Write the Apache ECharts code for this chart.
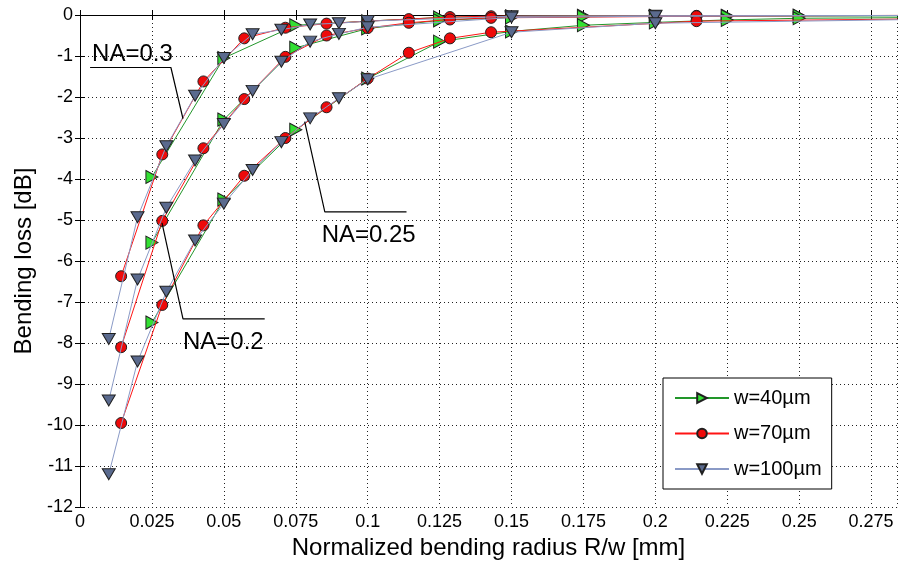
<!DOCTYPE html>
<html>
<head>
<meta charset="utf-8">
<style>
html,body{margin:0;padding:0;background:#fff}
#main{width:899px;height:565px}
</style>
<script src="https://cdn.jsdelivr.net/npm/echarts@6/dist/echarts.min.js"></script>
</head>
<body>
<div id="main"></div>
<script>
// normalized radius R/w for each fibre width (last point lies past the axis end)
var x40  = [0.025, 0.05, 0.075, 0.1, 0.125, 0.15, 0.175, 0.2, 0.225, 0.25, 0.375];
var x70  = [0.0143, 0.0286, 0.0429, 0.0571, 0.0714, 0.0857, 0.1, 0.1143, 0.1286, 0.1429, 0.2143, 0.2857];
var x100 = [0.01, 0.02, 0.03, 0.04, 0.05, 0.06, 0.07, 0.08, 0.09, 0.1, 0.15, 0.2, 0.3];

// curve labelled NA=0.3
var a40  = [-3.95, -1.05, -0.25, -0.15, -0.06, -0.03, -0.02, -0.02, -0.02, -0.02, -0.01];
var a70  = [-6.37, -3.4, -1.62, -0.57, -0.31, -0.21, -0.15, -0.1, -0.05, -0.03, -0.02, -0.01];
var a100 = [-7.9, -4.93, -3.2, -1.97, -1.05, -0.47, -0.36, -0.23, -0.2, -0.15, -0.03, -0.02, -0.01];
// curve labelled NA=0.2
var b40  = [-5.55, -2.55, -0.8, -0.33, -0.13, -0.06, -0.04, -0.03, -0.03, -0.02, -0.01];
var b70  = [-8.1, -5.02, -3.25, -2.05, -1.02, -0.5, -0.32, -0.19, -0.11, -0.07, -0.03, -0.01];
var b100 = [-9.4, -6.45, -4.7, -3.55, -2.66, -1.85, -1.14, -0.65, -0.46, -0.3, -0.06, -0.03, -0.01];
// curve labelled NA=0.25
var c40  = [-7.5, -4.5, -2.8, -1.55, -0.65, -0.4, -0.25, -0.18, -0.12, -0.08, -0.03];
var c70  = [-9.95, -7.07, -5.13, -3.92, -3.0, -2.25, -1.55, -0.92, -0.57, -0.42, -0.15, -0.1];
var c100 = [-11.2, -8.45, -6.75, -5.5, -4.6, -3.78, -3.1, -2.52, -2.03, -1.57, -0.42, -0.2, -0.1];

var legendNames = ['w=40\u00b5m', 'w=70\u00b5m', 'w=100\u00b5m'];

// annotation texts and leader lines, in data units
var noteText = ['NA=0.3', 'NA=0.2', 'NA=0.25'];
var noteX    = [0.0042, 0.0358, 0.084];
var noteY    = [-0.95, -7.98, -5.37];
var leaders = [
  [[0.0035, -1.28], [0.0316, -1.28], [0.0358, -2.53]],
  [[0.0285, -5.07], [0.0358, -7.41], [0.0642, -7.41]],
  [[0.0781, -2.6], [0.0851, -4.8], [0.1135, -4.8]]
];

var FONT = 'Arial, "Liberation Sans", sans-serif';
var triRight = 'path://M0,0 L10,5 L0,10 Z';
var triDown  = 'path://M0,0 L10,0 L5,9 Z';

function pts(xs, ys) {
  return ys.map(function (y, i) { return [xs[i], y]; });
}

function curve(name, xs, ys, sym, size, line, fill, z) {
  return {
    name: name, type: 'line', data: pts(xs, ys),
    symbol: sym, symbolSize: size, showAllSymbol: true,
    lineStyle: { color: line, width: 1 },
    itemStyle: { color: fill, borderColor: '#202020', borderWidth: 1 },
    clip: true, z: z, animation: false
  };
}

var G = ['#22962a', '#33e033'];
var R = ['#ff1414', '#ee0a0a'];
var B = ['#8a9ac6', '#5a6a8e'];

var series = [
  curve(legendNames[0], x40, a40, triRight, [12, 13], G[0], G[1], 2),
  curve(legendNames[0], x40, b40, triRight, [12, 13], G[0], G[1], 2),
  curve(legendNames[0], x40, c40, triRight, [12, 13], G[0], G[1], 2),
  curve(legendNames[1], x70, a70, 'circle', 11, R[0], R[1], 3),
  curve(legendNames[1], x70, b70, 'circle', 11, R[0], R[1], 3),
  curve(legendNames[1], x70, c70, 'circle', 11, R[0], R[1], 3),
  curve(legendNames[2], x100, a100, triDown, [13, 11], B[0], B[1], 4),
  curve(legendNames[2], x100, b100, triDown, [13, 11], B[0], B[1], 4),
  curve(legendNames[2], x100, c100, triDown, [13, 11], B[0], B[1], 4)
];

leaders.forEach(function (l, i) {
  series.push({
    name: 'leader' + i, type: 'line', data: l, symbol: 'none',
    lineStyle: { color: '#000', width: 1.2 }, silent: true, z: 5, animation: false
  });
});

series.push({
  name: 'notes', type: 'scatter', symbolSize: 0, silent: true, z: 6, animation: false,
  itemStyle: { opacity: 1 },
  data: noteText.map(function (t, i) { return [noteX[i], noteY[i], t]; }),
  label: {
    show: true, position: 'right', distance: 0, opacity: 1,
    formatter: function (p) { return p.value[2]; },
    color: '#000', fontSize: 24, fontFamily: FONT
  }
});

var chart = echarts.init(document.getElementById('main'), null, { renderer: 'canvas' });
chart.setOption({
  backgroundColor: '#fff',
  animation: false,
  grid: { left: 80, top: 15, right: 2, bottom: 43 },
  legend: {
    data: legendNames, orient: 'vertical', left: 663, top: 378,
    padding: [10, 10, 10, 11], itemWidth: 54, itemHeight: 12, itemGap: 15.5,
    backgroundColor: '#fff', borderColor: '#000', borderWidth: 1,
    textStyle: { fontSize: 20, fontFamily: FONT, color: '#000' }
  },
  xAxis: [{
    type: 'value', min: 0, max: 0.284, interval: 0.025,
    name: 'Normalized bending radius R/w [mm]', nameLocation: 'middle', nameGap: 28,
    nameTextStyle: { fontSize: 24, fontFamily: FONT, color: '#000' },
    axisLine: { lineStyle: { color: '#000', width: 1 } },
    axisTick: { inside: true, length: 5, lineStyle: { color: '#000' } },
    axisLabel: { color: '#000', fontSize: 18, fontFamily: FONT, margin: 6, showMaxLabel: false },
    splitLine: { show: true, lineStyle: { color: '#222', type: [1, 3], width: 1 } }
  }, {
    type: 'value', position: 'top', min: 0, max: 0.284, interval: 0.025,
    axisLine: { show: true, lineStyle: { color: '#000', width: 1 } },
    axisTick: { show: true, inside: true, length: 5, lineStyle: { color: '#000' } },
    axisLabel: { show: false }, splitLine: { show: false }
  }],
  yAxis: [{
    type: 'value', min: -12, max: 0, interval: 1,
    name: 'Bending loss [dB]', nameLocation: 'middle', nameGap: 44,
    nameTextStyle: { fontSize: 24, fontFamily: FONT, color: '#000' },
    axisLine: { show: true, lineStyle: { color: '#000', width: 1 } },
    axisTick: { show: true, inside: true, length: 5, lineStyle: { color: '#000' } },
    axisLabel: { color: '#000', fontSize: 18, fontFamily: FONT, margin: 7 },
    splitLine: { show: true, lineStyle: { color: '#222', type: [1, 3], width: 1 } }
  }, {
    type: 'value', position: 'right', min: -12, max: 0, interval: 1,
    axisLine: { show: true, lineStyle: { color: '#000', width: 1 } },
    axisTick: { show: true, inside: true, length: 5, lineStyle: { color: '#000' } },
    axisLabel: { show: false }, splitLine: { show: false }
  }],
  series: series
});
</script>
</body>
</html>
